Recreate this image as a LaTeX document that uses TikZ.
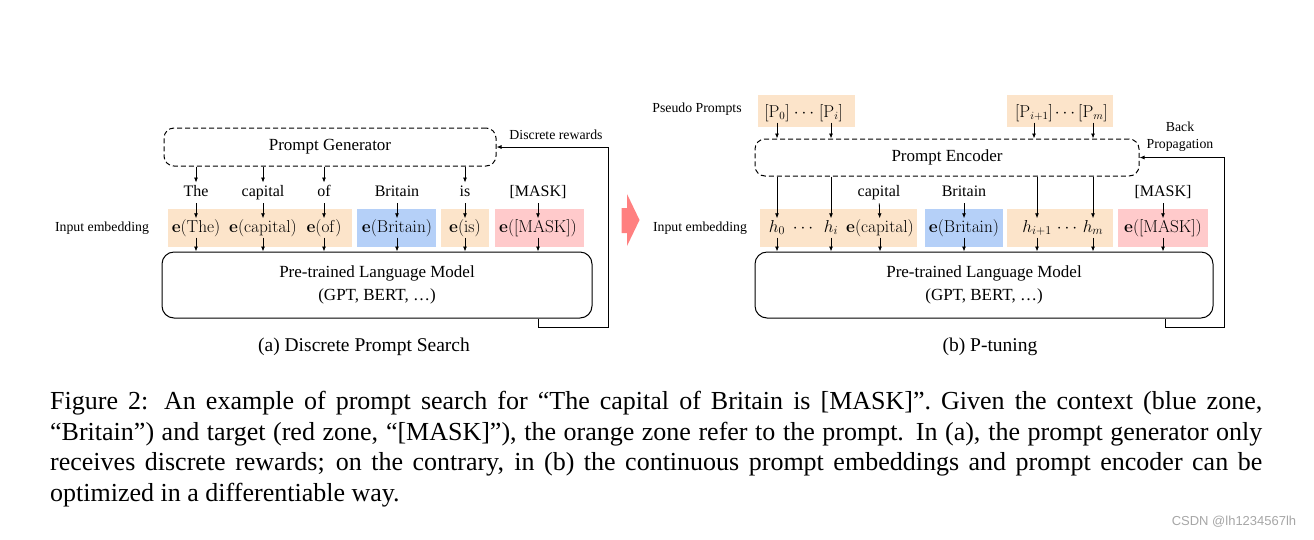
\documentclass[tikz,border=0pt]{standalone}
\usepackage[no-math]{fontspec}
\setmainfont{Liberation Serif}
\setsansfont{Liberation Sans}
\usetikzlibrary{arrows.meta}
\definecolor{zoneorange}{RGB}{252,228,202}
\definecolor{zoneblue}{RGB}{181,208,248}
\definecolor{zonered}{RGB}{255,202,203}
\definecolor{pinkarrow}{RGB}{255,128,128}

\begin{document}
\begin{tikzpicture}[
x=1pt, y=-1pt,
promptbox/.style={
draw,
dash pattern=on 5pt off 3pt,
rounded corners=10pt,
line width=1pt,
inner sep=0 pt,
font=\fontsize{17}{20}\selectfont,
},
lmbox/.style={
draw,
rounded corners=12pt,
line width=1pt,
inner sep=0 pt,
align=center,
font=\fontsize{17}{23}\selectfont,
},
zone/.style={inner sep=0 pt, minimum height=38pt},
token/.style={inner sep=1pt, inner ysep=3pt, text height=11pt, text depth=3.5pt,
  font=\fontsize{16}{19}\selectfont},
embed/.style={inner sep=1.5pt, text height=12pt, text depth=4pt,
  font=\fontsize{16}{19}\selectfont},
hidden/.style={embed, font=\fontsize{18}{21}\selectfont},
sidelabel/.style={font=\fontsize{13.8}{17}\selectfont, align=center},
flow/.style={line width=0.8pt, -{Latex[length=5pt, width=4pt]}},
]

\useasboundingbox (0,0) rectangle (1314,539);

% (a) discrete prompt search
\node [promptbox, minimum width=332pt, minimum height=38pt] at (330,147) (genA)
{Prompt Generator};

% zones
\node [zone, fill=zoneorange, minimum width=184pt] at (260,228) (zA1) {};
\node [zone, fill=zoneblue, minimum width=79pt] at (396.5,228) (zA2) {};
\node [zone, fill=zoneorange, minimum width=48pt] at (465,228) (zA3) {};
\node [zone, fill=zonered, minimum width=89pt] at (539.5,228) (zA4) {};

\path[every node/.style={token}]
(196,193) node (wAthe) {The}
(263,193) node (wAcap) {capital}
(324,193) node (wAof) {of}
(397,193) node (wAbri) {Britain}
(465,193) node (wAis) {is}
(538,193) node (wAmask) {[MASK]}
;

\path[every node/.style={embed}]
(196,228) node (eAthe) {\(\mathbf{e}(\mathrm{The})\)}
(263,228) node (eAcap) {\(\mathbf{e}(\mathrm{capital})\)}
(324,228) node (eAof) {\(\mathbf{e}(\mathrm{of})\)}
(397,228) node (eAbri) {\(\mathbf{e}(\mathrm{Britain})\)}
(465,228) node (eAis) {\(\mathbf{e}(\mathrm{is})\)}
(538,228) node (eAmask) {\(\mathbf{e}([\mathrm{MASK}])\)}
;

\node [lmbox, minimum width=430pt, minimum height=66pt] at (377,285) (plmA)
{Pre-trained Language Model\\(GPT, BERT, \ldots)};

\foreach \n in {the,cap,of,is}
  \draw [flow] (genA.south -| wA\n) -- (wA\n);
\foreach \n in {the,cap,of,bri,is,mask}
{
  \draw [flow] (wA\n) -- (eA\n);
  \draw [flow] (eA\n) -- (eA\n |- plmA.north);
}

% discrete rewards
\coordinate (turnA) at (608,327);
\draw [flow] ([xshift=-54pt]plmA.south east) |- (turnA) |- (genA.east);

% (b) p-tuning
\node [zone, fill=zoneorange, minimum width=97pt, minimum height=32pt] at (806.5,111) (zP1) {};
\node [zone, fill=zoneorange, minimum width=106pt, minimum height=32pt] at (1060,111) (zP2) {};

\path[every node/.style={embed}]
(777,113) node (pB0) {\([\mathrm{P}_0]\)}
(804,113) node (dotP1) {\(\cdots\)}
(831,113) node (pBi) {\([\mathrm{P}_i]\)}
(1034,113) node (pBj) {\([\mathrm{P}_{i+1}]\)}
(1065,113) node (dotP2) {\(\cdots\)}
(1093,113) node (pBm) {\([\mathrm{P}_m]\)}
;

\node [promptbox, minimum width=384pt, minimum height=37pt] at (947,157.5) (encB)
{Prompt Encoder};

\node [zone, fill=zoneorange, minimum width=157pt] at (838.5,228) (zB1) {};
\node [zone, fill=zoneblue, minimum width=78pt] at (964,228) (zB2) {};
\node [zone, fill=zoneorange, minimum width=106pt] at (1060,228) (zB3) {};
\node [zone, fill=zonered, minimum width=90pt] at (1163,228) (zB4) {};

\path[every node/.style={token}]
(879,193) node (wBcap) {capital}
(964,193) node (wBbri) {Britain}
(1163,193) node (wBmask) {[MASK]}
;

\path[every node/.style={embed}]
(777,228) node[hidden] (eBh0) {\(h_0\)}
(803,228) node (dotB1) {\(\cdots\)}
(831,228) node[hidden] (eBhi) {\(h_i\)}
(880,228) node (eBcap) {\(\mathbf{e}(\mathrm{capital})\)}
(964,228) node (eBbri) {\(\mathbf{e}(\mathrm{Britain})\)}
(1037,228) node[hidden] (eBhj) {\(h_{i+1}\)}
(1067,228) node (dotB2) {\(\cdots\)}
(1093,228) node[hidden] (eBhm) {\(h_m\)}
(1163,228) node (eBmask) {\(\mathbf{e}([\mathrm{MASK}])\)}
;

\node [lmbox, minimum width=458pt, minimum height=66pt] at (984,285) (plmB)
{Pre-trained Language Model\\(GPT, BERT, \ldots)};

\foreach \n in {0,i,j,m}
  \draw [flow] (pB\n) -- (pB\n |- encB.north);
\foreach \n in {h0,hi,hj,hm}
  \draw [flow] (encB.south -| eB\n) -- (eB\n);
\foreach \n in {cap,bri,mask}
  \draw [flow] (wB\n) -- (eB\n);
\foreach \n in {h0,hi,cap,bri,hj,hm,mask}
  \draw [flow] (eB\n) -- (eB\n |- plmB.north);

% back propagation
\coordinate (turnB) at (1224,327);
\draw [flow] ([xshift=-48pt]plmB.south east) |- (turnB) |- (encB.east);

% labels
\path[sidelabel]
(102,228) node (inA) {Input embedding}
(556,135) node (rewA) {Discrete rewards}
(697,109) node (pseB) {Pseudo Prompts}
(700,228) node (inB) {Input embedding}
(1180,137) node (bpB) {Back\\Propagation}
;

% big arrow between panels
\fill [pinkarrow] (621.5,208) -- (627,208) -- (627,194) -- (639.5,220)
  -- (627,246) -- (627,233) -- (621.5,233) -- cycle;

\path[font=\fontsize{19.5}{23}\selectfont]
(364,347) node (capA) {(a) Discrete Prompt Search}
(990,347) node (capB) {(b) P-tuning}
;

\node [anchor=north west, text width=1212pt, align=justify, inner sep=0 pt,
font=\fontsize{26}{30.5}\selectfont] at (50,391) (figcap)
{Figure 2: An example of prompt search for ``The capital of Britain is [MASK]''. Given the context (blue zone,\linebreak
``Britain'') and target (red zone, ``[MASK]''), the orange zone refer to the prompt. In (a), the prompt generator only\linebreak
receives discrete rewards; on the contrary, in (b) the continuous prompt embeddings and prompt encoder can be\linebreak
optimized in a differentiable way.};

\node [font=\sffamily\fontsize{13}{15}\selectfont, text=black!35] at (1234,522) (mark)
{CSDN @lh1234567lh};

\end{tikzpicture}
\end{document}
